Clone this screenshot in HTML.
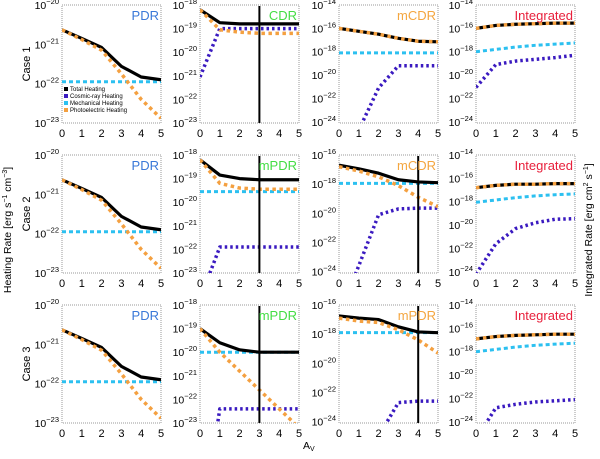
<!DOCTYPE html>
<html><head><meta charset="utf-8"><style>
html,body{margin:0;padding:0;background:#fff;width:600px;height:459px;overflow:hidden;}
svg{display:block;font-family:"Liberation Sans",sans-serif;}
</style></head><body>
<svg id="chart" width="600" height="459" viewBox="0 0 600 459" xmlns="http://www.w3.org/2000/svg">
<defs></defs>
<text transform="translate(11,230) rotate(-90)" text-anchor="middle" font-size="10.5">Heating Rate [erg s<tspan dy="-4" font-size="7">−1</tspan><tspan dy="4"> cm</tspan><tspan dy="-4" font-size="7">−3</tspan><tspan dy="4">]</tspan></text>
<text transform="translate(592,230) rotate(-90)" text-anchor="middle" font-size="10.5">Integrated Rate [erg cm<tspan dy="-4" font-size="7">2</tspan><tspan dy="4"> s</tspan><tspan dy="-4" font-size="7">−1</tspan><tspan dy="4">]</tspan></text>
<text x="303" y="449" font-size="10.5">A<tspan font-size="7" dy="2">V</tspan></text>
<g id="panels"></g>
</svg>
<script>
const xCats = [0,1,2,3,4,5];
const caseLabels = ["Case 1","Case 2","Case 3"];
const panelTitles = [["PDR","CDR","mCDR","Integrated"],["PDR","mPDR","mCDR","Integrated"],["PDR","mPDR","mPDR","Integrated"]];
const vLines = [[null,3,null,null],[null,3,4,null],[null,3,4,null]];
// log10 values per row/col
const totalVals = [
 [[-20.63,-20.85,-21.08,-21.56,-21.83,-21.9],[-18.2,-18.75,-18.8,-18.8,-18.8,-18.8],[-16,-16.25,-16.5,-16.85,-17.1,-17.15],[-16,-15.75,-15.65,-15.6,-15.55,-15.55]],
 [[-20.63,-20.85,-21.08,-21.56,-21.83,-21.9],[-18.2,-18.85,-19.0,-19.05,-19.05,-19.05],[-16.7,-16.95,-17.25,-17.7,-17.85,-17.9],[-16.8,-16.6,-16.5,-16.5,-16.45,-16.45]],
 [[-20.63,-20.85,-21.08,-21.56,-21.83,-21.9],[-19.0,-19.6,-19.9,-20.0,-20.0,-20.0],[-16.75,-16.9,-17.0,-17.5,-17.85,-17.9],[-16.9,-16.7,-16.6,-16.55,-16.5,-16.5]]];
const photoVals = [
 [[-20.63,-20.88,-21.15,-21.75,-22.4,-22.88],[-18.2,-19.05,-19.15,-19.2,-19.2,-19.2],[-16,-16.25,-16.5,-16.85,-17.1,-17.15],[-16,-15.75,-15.65,-15.6,-15.55,-15.55]],
 [[-20.63,-20.88,-21.15,-21.75,-22.4,-22.88],[-18.2,-19.2,-19.4,-19.45,-19.45,-19.45],[-16.8,-17.1,-17.5,-18.1,-18.9,-19.55],[-16.8,-16.6,-16.5,-16.5,-16.45,-16.45]],
 [[-20.63,-20.88,-21.15,-21.75,-22.4,-22.88],[-19.0,-20.0,-20.8,-21.6,-22.4,-23.2],[-16.9,-17.1,-17.2,-17.7,-18.4,-19.3],[-16.9,-16.7,-16.6,-16.55,-16.5,-16.5]]];
const mechVals = [
 [[-21.95,-21.95,-21.95,-21.95,-21.95,-21.95],[-24,-24,-24,-24,-24,-24],[-18.1,-18.1,-18.1,-18.1,-18.1,-18.1],[-18,-17.8,-17.6,-17.45,-17.35,-17.25]],
 [[-21.95,-21.95,-21.95,-21.95,-21.95,-21.95],[-19.55,-19.55,-19.55,-19.55,-19.55,-19.55],[-17.95,-17.95,-17.95,-17.95,-17.95,-17.95],[-18.05,-17.85,-17.65,-17.5,-17.4,-17.33]],
 [[-21.95,-21.95,-21.95,-21.95,-21.95,-21.95],[-20.0,-20.0,-20.0,-20.0,-20.0,-20.0],[-17.9,-17.9,-17.9,-17.9,-17.9,-17.9],[-18,-17.8,-17.6,-17.45,-17.35,-17.27]]];
const cosmicVals = [
 [[-26,-26,-26,-26,-26,-26],[-21.05,-19.0,-19.0,-19.0,-19.0,-19.0],[-27,-24.7,-21.1,-19.2,-19.2,-19.2],[-21.05,-19.1,-18.8,-18.65,-18.5,-18.3]],
 [[-26,-26,-26,-26,-26,-26],[-24.1,-21.9,-21.9,-21.9,-21.9,-21.9],[-27,-23.6,-20.1,-19.7,-19.65,-19.65],[-24.2,-21.6,-20.3,-19.8,-19.5,-19.45]],
 [[-26,-26,-26,-26,-26,-26],[-28,-22.4,-22.4,-22.4,-22.4,-22.4],[-28,-27,-25.0,-22.7,-22.6,-22.6],[-25.5,-22.8,-22.5,-22.3,-22.2,-22.1]]];
const yRanges = [[[-23,-20],[-23,-18],[-24.1,-14],[-24.1,-14]],[[-23,-20],[-23,-18],[-24.1,-16],[-24.1,-14]],[[-23,-20],[-23,-18],[-24.1,-16],[-24.1,-14]]];
const yTickSets = [[[-20,-21,-22,-23],[-18,-19,-20,-21,-22,-23],[-14,-16,-18,-20,-22,-24],[-14,-16,-18,-20,-22,-24]],
 [[-20,-21,-22,-23],[-18,-19,-20,-21,-22,-23],[-16,-18,-20,-22,-24],[-14,-16,-18,-20,-22,-24]],
 [[-20,-21,-22,-23],[-18,-19,-20,-21,-22,-23],[-16,-18,-20,-22,-24],[-14,-16,-18,-20,-22,-24]]];
const legendLabels = ["Total Heating","Cosmic-ray Heating","Mechanical Heating","Photoelectric Heating"];

const colX=[62,200,339,476], rowY=[5,155,305], PW=99, PH=118;
const titleColors=["#3a78d8","#44dd44","#f4a640","#e8203c"];
const C={tot:"#000",ph:"#f4a040",me:"#2cc0f0",cr:"#3a1ac0"};
const NS="http://www.w3.org/2000/svg";
const root=document.getElementById('panels');
const defs=document.querySelector('defs');
function mk(tag,attrs,parent){const e=document.createElementNS(NS,tag);for(const k in attrs)e.setAttribute(k,attrs[k]);(parent||root).appendChild(e);return e;}

for(let r=0;r<3;r++){for(let c=0;c<4;c++){
  const x0=colX[c],y0=rowY[r],[lo,hi]=yRanges[r][c];
  const xs=v=>x0+v/5*PW, ys=v=>y0+(hi-v)/(hi-lo)*PH;
  const g=mk('g',{});
  
  
  const cp=mk('clipPath',{id:'cp'+r+c},defs);
  mk('rect',{x:x0,y:y0,width:PW,height:PH},cp);
  const fr=mk('rect',{x:x0,y:y0,width:PW,height:PH,fill:'none',stroke:'#999','stroke-width':1,'stroke-dasharray':'1,1'},g);
  
  
  xCats.forEach(v=>{
    const t=mk('text',{x:xs(v),y:y0+PH+14,'text-anchor':'middle','font-size':11},g);t.textContent=v;
    
    
  });
  yTickSets[r][c].forEach(v=>{
    const t=mk('text',{x:x0-3,y:ys(v)+4,'text-anchor':'end','font-size':10.5},g);
    
    
    t.innerHTML='10<tspan dy="-5" font-size="7.5">'+(v<0?'−':'')+Math.abs(v)+'</tspan>';
  });
  const lg=mk('g',{'clip-path':'url(#cp'+r+c+')'},g);
  const line=(vals,st)=>mk('polyline',Object.assign({points:vals.map((v,i)=>xs(xCats[i])+','+ys(v)).join(' '),fill:'none','stroke-linejoin':'round'},st),lg);
  let p;
  p=line(mechVals[r][c],{stroke:C.me,'stroke-width':3,'stroke-dasharray':'4,3'});
  
  
  p=line(cosmicVals[r][c],{stroke:C.cr,'stroke-width':3.5,'stroke-dasharray':'2.5,3'});
  
  
  p=line(totalVals[r][c],{stroke:C.tot,'stroke-width':3.2});
  
  
  p=line(photoVals[r][c],{stroke:C.ph,'stroke-width':3.5,'stroke-dasharray':'3.5,3.5'});
  
  
  if(vLines[r][c]!==null){
    const vl=mk('line',{x1:xs(vLines[r][c]),x2:xs(vLines[r][c]),y1:y0+1,y2:y0+PH,stroke:'#000','stroke-width':2},g);
    
    
  }
  const tt=mk('text',{x:x0+PW-2,y:y0+15,'text-anchor':'end','font-size':13,fill:titleColors[c]},g);
  tt.textContent=panelTitles[r][c];
  
  
}
  const cl=mk('text',{transform:'translate(30,'+(rowY[r]+PH/2)+') rotate(-90)','text-anchor':'middle','font-size':11});
  cl.textContent=caseLabels[r];
  
  
}
const legCols=[C.tot,C.cr,C.me,C.ph];
legendLabels.forEach((l,i)=>{
  const y=91+i*7;
  const s=mk('rect',{x:64,y:y-4,width:4,height:4,fill:legCols[i]});
  
  
  const t=mk('text',{x:70,y:y,'font-size':6});t.textContent=l;
  
  
});
</script>
</body></html>
